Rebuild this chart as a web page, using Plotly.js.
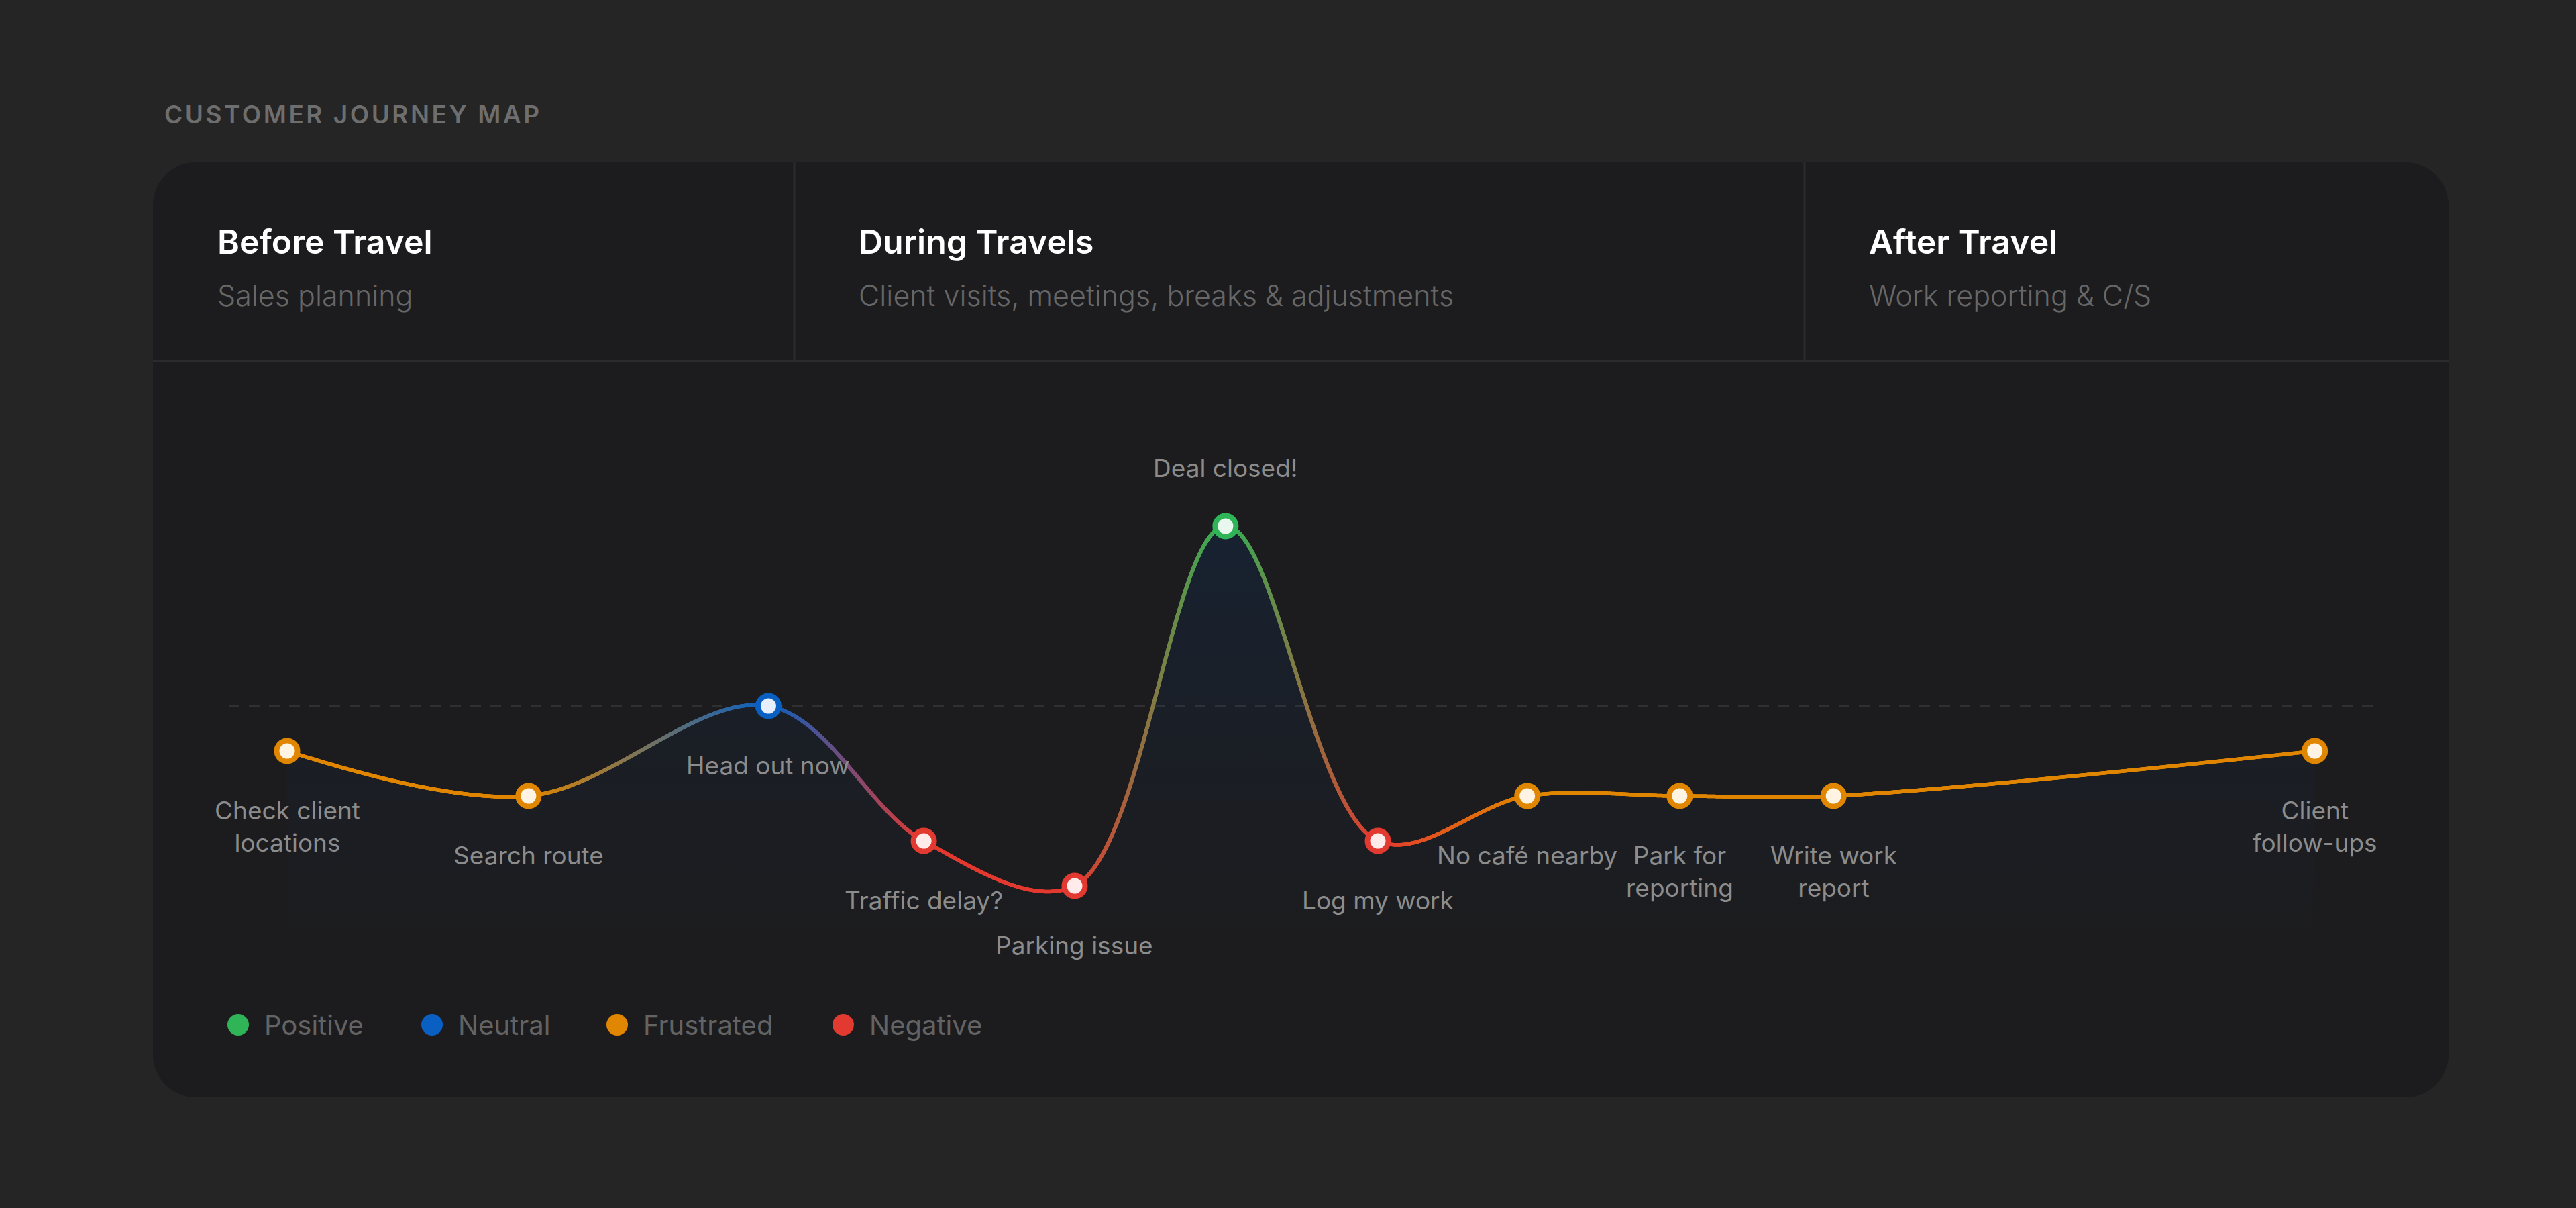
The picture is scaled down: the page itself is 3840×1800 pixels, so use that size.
<!DOCTYPE html>
<html>
<head>
<meta charset="utf-8">
<script src="https://cdn.plot.ly/plotly-3.0.1.min.js"></script>
<style>
  html, body { margin: 0; padding: 0; background: #252525; }
  #chart { width: 3840px; height: 1800px; }
  .annotation[data-index="0"] .annotation-text { letter-spacing: 3.5px; }
</style>
</head>
<body>
<div id="chart"></div>
<script>
// ---------------- DATA ----------------
const chartTitle = 'CUSTOMER JOURNEY MAP';
const phaseTitles = ['Before Travel', 'During Travels', 'After Travel'];
const phaseSubtitles = ['Sales planning', 'Client visits, meetings, breaks & adjustments', 'Work reporting & C/S'];

const stepLabels = ['Check client\nlocations', 'Search route', 'Head out now', 'Traffic delay?', 'Parking issue',
                    'Deal closed!', 'Log my work', 'No café nearby', 'Park for\nreporting', 'Write work\nreport',
                    'Client\nfollow-ups'];
const stepTimeline = [0, 1.6, 3.19, 4.22, 5.22, 6.22, 7.23, 8.22, 9.23, 10.25, 13.44];
const stepSentiment = [-1, -2, 0, -3, -4, 4, -3, -2, -2, -2, -1];
const stepMood = ['Frustrated', 'Frustrated', 'Neutral', 'Negative', 'Negative', 'Positive', 'Negative',
                  'Frustrated', 'Frustrated', 'Frustrated', 'Frustrated'];

const moodNames = ['Positive', 'Neutral', 'Frustrated', 'Negative'];
const moodColors = ['#2fb457', '#0a60c2', '#e08600', '#e23a31'];
const moodTints = ['#e9f8ee', '#e6effb', '#fff4e4', '#ffecea'];

// ---------------- LAYOUT HELPERS ----------------
const W = 3840, H = 1800;
const PX = v => v / W;
const PY = v => 1 - v / H;

const card = { x0: 228, y0: 242, x1: 3650, y1: 1635, r: 64 };
const headerBottom = 538;
const phaseEdges = [228, 1184, 2690, 3650];
const legendMarkerX = [355, 644, 920, 1257];
const legendY = 1527;

const plotLeft = 341, plotRight = 3539, plotTop = 600, plotBottom = 1430;
const firstStepPx = 428, unitX = 224.9, neutralPx = 1052, unitY = 67;
const xRange = [(plotLeft - firstStepPx) / unitX, (plotRight - firstStepPx) / unitX];
const yRange = [(neutralPx - plotBottom) / unitY, (neutralPx - plotTop) / unitY];

function roundedRectPath(b) {
  const k = 0.5523 * b.r;
  const X = PX, Y = PY;
  return `M${X(b.x0 + b.r)},${Y(b.y0)} L${X(b.x1 - b.r)},${Y(b.y0)} ` +
    `C${X(b.x1 - b.r + k)},${Y(b.y0)} ${X(b.x1)},${Y(b.y0 + b.r - k)} ${X(b.x1)},${Y(b.y0 + b.r)} ` +
    `L${X(b.x1)},${Y(b.y1 - b.r)} ` +
    `C${X(b.x1)},${Y(b.y1 - b.r + k)} ${X(b.x1 - b.r + k)},${Y(b.y1)} ${X(b.x1 - b.r)},${Y(b.y1)} ` +
    `L${X(b.x0 + b.r)},${Y(b.y1)} ` +
    `C${X(b.x0 + b.r - k)},${Y(b.y1)} ${X(b.x0)},${Y(b.y1 - b.r + k)} ${X(b.x0)},${Y(b.y1 - b.r)} ` +
    `L${X(b.x0)},${Y(b.y0 + b.r)} ` +
    `C${X(b.x0)},${Y(b.y0 + b.r - k)} ${X(b.x0 + b.r - k)},${Y(b.y0)} ${X(b.x0 + b.r)},${Y(b.y0)} Z`;
}

const moodColor = m => moodColors[moodNames.indexOf(m)];
const moodTint = m => moodTints[moodNames.indexOf(m)];

// ---------------- SHAPES ----------------
const shapes = [
  { type: 'path', xref: 'paper', yref: 'paper', path: roundedRectPath(card),
    fillcolor: '#1c1c1e', line: { width: 0 }, layer: 'below' },
  { type: 'line', xref: 'paper', yref: 'paper', x0: PX(card.x0), x1: PX(card.x1),
    y0: PY(headerBottom), y1: PY(headerBottom), line: { color: '#2b2b2e', width: 4 }, layer: 'below' },
  { type: 'line', xref: 'x domain', yref: 'y', x0: 0, x1: 1, y0: 0, y1: 0,
    line: { color: '#303033', width: 3, dash: '16px,14px' }, layer: 'below' }
];
for (let i = 1; i < phaseEdges.length - 1; i++) {
  shapes.push({ type: 'line', xref: 'paper', yref: 'paper', x0: PX(phaseEdges[i]), x1: PX(phaseEdges[i]),
    y0: PY(card.y0), y1: PY(headerBottom), line: { color: '#2b2b2e', width: 3 }, layer: 'below' });
}
moodNames.forEach((m, i) => {
  const cx = legendMarkerX[i], r = 16;
  shapes.push({ type: 'circle', xref: 'paper', yref: 'paper',
    x0: PX(cx - r), x1: PX(cx + r), y0: PY(legendY + r), y1: PY(legendY - r),
    fillcolor: moodColors[i], line: { width: 0 } });
});

// ---------------- ANNOTATIONS ----------------
const annotations = [
  { text: chartTitle, xref: 'paper', yref: 'paper', x: PX(278), y: PY(170), xanchor: 'left', yanchor: 'middle',
    showarrow: false, font: { family: 'Inter', size: 37, color: '#6e6e6e', weight: 600 } }
];
phaseTitles.forEach((t, i) => {
  const x = phaseEdges[i] + 94;
  annotations.push({ text: t, xref: 'paper', yref: 'paper', x: PX(x), y: PY(360), xanchor: 'left', yanchor: 'middle',
    showarrow: false, font: { family: 'Inter', size: 50, color: '#ffffff', weight: 600 } });
  annotations.push({ text: phaseSubtitles[i], xref: 'paper', yref: 'paper', x: PX(x), y: PY(440), xanchor: 'left',
    yanchor: 'middle', showarrow: false, font: { family: 'Inter', size: 43, color: '#676767', weight: 300 } });
});
stepLabels.forEach((lab, i) => {
  const above = stepSentiment[i] > 0;
  annotations.push({ text: lab.replace(/\n/g, '<br>'), xref: 'x', yref: 'y', x: stepTimeline[i], y: stepSentiment[i],
    xanchor: 'center', yanchor: above ? 'bottom' : 'top', yshift: above ? 62 : -64, showarrow: false,
    align: 'center', font: { family: 'Inter', size: 37, color: '#8c8c8c' } });
});
moodNames.forEach((m, i) => {
  annotations.push({ text: m, xref: 'paper', yref: 'paper', x: PX(legendMarkerX[i] + 37), y: PY(legendY),
    xanchor: 'left', yanchor: 'middle', showarrow: false,
    font: { family: 'Inter', size: 40, color: '#636363' } });
});

// ---------------- TRACES ----------------
const first = 0, last = stepTimeline.length - 1;
const traces = [
  { x: [stepTimeline[first], stepTimeline[last]], y: [yRange[0], yRange[0]], mode: 'lines',
    line: { width: 0, color: 'rgba(0,0,0,0)' }, hoverinfo: 'skip', showlegend: false },
  { x: stepTimeline, y: stepSentiment, mode: 'lines', fill: 'tonexty',
    line: { shape: 'spline', smoothing: 1, simplify: false, width: 0, color: 'rgba(0,0,0,0)' },
    fillgradient: { type: 'vertical', colorscale: [[0, 'rgba(0,60,140,0)'], [0.45, 'rgba(0,60,140,0.06)'], [1, 'rgba(0,60,140,0.17)']] },
    hoverinfo: 'skip', showlegend: false },
  { x: [], y: [], mode: 'markers', marker: { size: 5.5, color: [], line: { width: 0 } },
    hoverinfo: 'skip', showlegend: false },
  { x: stepTimeline, y: stepSentiment, mode: 'markers', text: stepLabels,
    marker: { size: 31, color: stepMood.map(moodTint), line: { color: stepMood.map(moodColor), width: 8 } },
    hoverinfo: 'text', showlegend: false }
];

const layout = {
  width: W, height: H,
  margin: { l: 0, r: 0, t: 0, b: 0 },
  paper_bgcolor: '#252525', plot_bgcolor: 'rgba(0,0,0,0)',
  showlegend: false,
  xaxis: { domain: [PX(plotLeft), PX(plotRight)], range: xRange, visible: false, fixedrange: true },
  yaxis: { domain: [PY(plotBottom), PY(plotTop)], range: yRange, visible: false, fixedrange: true },
  shapes, annotations,
  font: { family: 'Inter' }
};

// ---------------- GRADIENT LINE (Plotly spline geometry) ----------------
function makeTangent(p0, p1, p2, s) {
  const d1x = p0[0] - p1[0], d1y = p0[1] - p1[1];
  const d2x = p2[0] - p1[0], d2y = p2[1] - p1[1];
  const d1a = Math.pow(d1x * d1x + d1y * d1y, 0.25);
  const d2a = Math.pow(d2x * d2x + d2y * d2y, 0.25);
  const numx = (d2a * d2a * d1x - d1a * d1a * d2x) * s;
  const numy = (d2a * d2a * d1y - d1a * d1a * d2y) * s;
  const den1 = d2a * (d1a + d2a) * 3, den2 = d1a * (d1a + d2a) * 3;
  return [[p1[0] + (den1 && numx / den1), p1[1] + (den1 && numy / den1)],
          [p1[0] - (den2 && numx / den2), p1[1] - (den2 && numy / den2)]];
}
function hexRgb(h) { return [parseInt(h.slice(1, 3), 16), parseInt(h.slice(3, 5), 16), parseInt(h.slice(5, 7), 16)]; }
function mix(a, b, t) { const A = hexRgb(a), B = hexRgb(b);
  return `rgb(${Math.round(A[0] + (B[0] - A[0]) * t)},${Math.round(A[1] + (B[1] - A[1]) * t)},${Math.round(A[2] + (B[2] - A[2]) * t)})`; }

const gd = document.getElementById('chart');
Plotly.newPlot(gd, traces, layout, { staticPlot: true, displayModeBar: false }).then(() => {
  const xa = gd._fullLayout.xaxis, ya = gd._fullLayout.yaxis;
  const pts = stepTimeline.map((t, i) => [xa.c2p(t), ya.c2p(stepSentiment[i])]);
  const n = pts.length;
  const tans = [];
  for (let i = 1; i < n - 1; i++) tans.push(makeTangent(pts[i - 1], pts[i], pts[i + 1], 1));
  const gx = [], gy = [], gc = [];
  for (let s = 0; s < n - 1; s++) {
    const P0 = pts[s], P3 = pts[s + 1];
    let ctrl;
    if (s === 0) ctrl = ['Q', tans[0][0]];
    else if (s === n - 2) ctrl = ['Q', tans[n - 3][1]];
    else ctrl = ['C', tans[s - 1][1], tans[s][0]];
    const len = Math.hypot(P3[0] - P0[0], P3[1] - P0[1]) * 1.6;
    const N = Math.max(20, Math.ceil(len / 1.0));
    const c0 = moodColor(stepMood[s]), c1 = moodColor(stepMood[s + 1]);
    for (let k = 0; k <= N; k++) {
      const u = k / N, v = 1 - u;
      let x, y;
      if (ctrl[0] === 'Q') {
        const C = ctrl[1];
        x = v * v * P0[0] + 2 * v * u * C[0] + u * u * P3[0];
        y = v * v * P0[1] + 2 * v * u * C[1] + u * u * P3[1];
      } else {
        const C1 = ctrl[1], C2 = ctrl[2];
        x = v * v * v * P0[0] + 3 * v * v * u * C1[0] + 3 * v * u * u * C2[0] + u * u * u * P3[0];
        y = v * v * v * P0[1] + 3 * v * v * u * C1[1] + 3 * v * u * u * C2[1] + u * u * u * P3[1];
      }
      const tx = (x - P0[0]) / (P3[0] - P0[0]);
      gx.push(xa.p2c(x)); gy.push(ya.p2c(y)); gc.push(mix(c0, c1, Math.min(1, Math.max(0, tx))));
    }
  }
  return Plotly.restyle(gd, { x: [gx], y: [gy], 'marker.color': [gc] }, [2]);
});
</script>
</body>
</html>
